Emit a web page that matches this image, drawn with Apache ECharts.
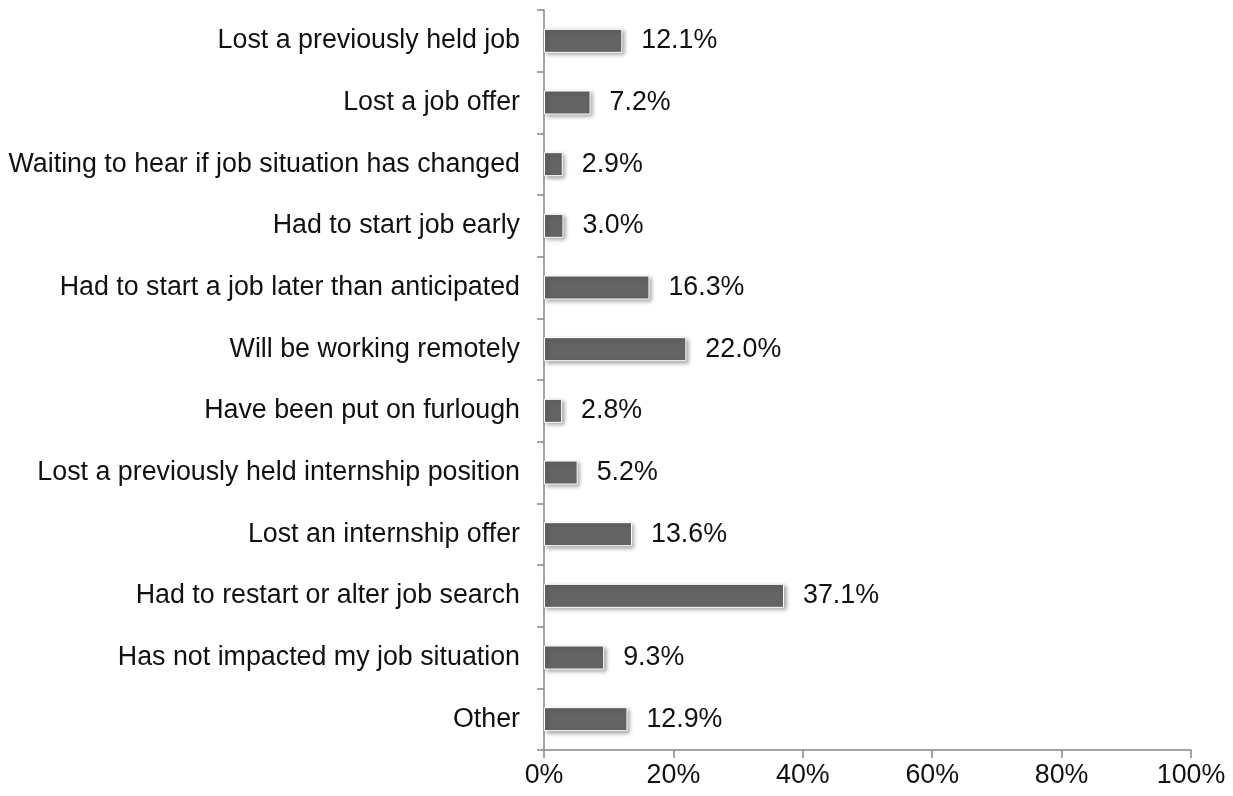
<!DOCTYPE html>
<html><head><meta charset="utf-8">
<script src="https://cdn.jsdelivr.net/npm/echarts@6/dist/echarts.min.js"></script>
<style>html,body{margin:0;padding:0;background:#fff}#c{width:1233px;height:796px}</style>
</head><body><div id="c"></div>
<script>
const categories = [
  "Lost a previously held job",
  "Lost a job offer",
  "Waiting to hear if job situation has changed",
  "Had to start job early",
  "Had to start a job later than anticipated",
  "Will be working remotely",
  "Have been put on furlough",
  "Lost a previously held internship position",
  "Lost an internship offer",
  "Had to restart or alter job search",
  "Has not impacted my job situation",
  "Other"
];
const values = [12.1, 7.2, 2.9, 3.0, 16.3, 22.0, 2.8, 5.2, 13.6, 37.1, 9.3, 12.9];
const xTicks = [0, 20, 40, 60, 80, 100];

const chart = echarts.init(document.getElementById('c'));
chart.setOption({
  animation: false,
  grid: { left: 544, right: 42, top: 10, bottom: 46 },
  xAxis: {
    type: 'value', min: 0, max: 100, interval: 20,
    axisLine: { show: true, lineStyle: { color: '#868686', width: 1.5 } },
    axisTick: { show: true, length: 8, lineStyle: { color: '#868686', width: 1.5 } },
    splitLine: { show: false },
    axisLabel: { formatter: v => v + '%', fontFamily: 'Liberation Sans, Arial', fontSize: 26.8, color: '#111', margin: 12 }
  },
  yAxis: {
    type: 'category', data: categories, inverse: true,
    axisLine: { show: true, lineStyle: { color: '#868686', width: 1.5 } },
    axisTick: { show: true, length: 7, lineStyle: { color: '#868686', width: 1.5 } },
    axisLabel: { fontFamily: 'Liberation Sans, Arial', fontSize: 26.8, color: '#111', margin: 24 }
  },
  series: [{
    type: 'bar', data: values, barWidth: 24,
    itemStyle: {
      color: '#646464', borderColor: '#fff', borderWidth: 1,
      shadowColor: 'rgba(0,0,0,0.35)', shadowBlur: 4, shadowOffsetX: 2, shadowOffsetY: 2
    },
    label: {
      show: true, position: 'right', distance: 19,
      formatter: p => p.value.toFixed(1) + '%',
      fontFamily: 'Liberation Sans, Arial', fontSize: 26.8, color: '#111'
    }
  }]
});
</script></body></html>
